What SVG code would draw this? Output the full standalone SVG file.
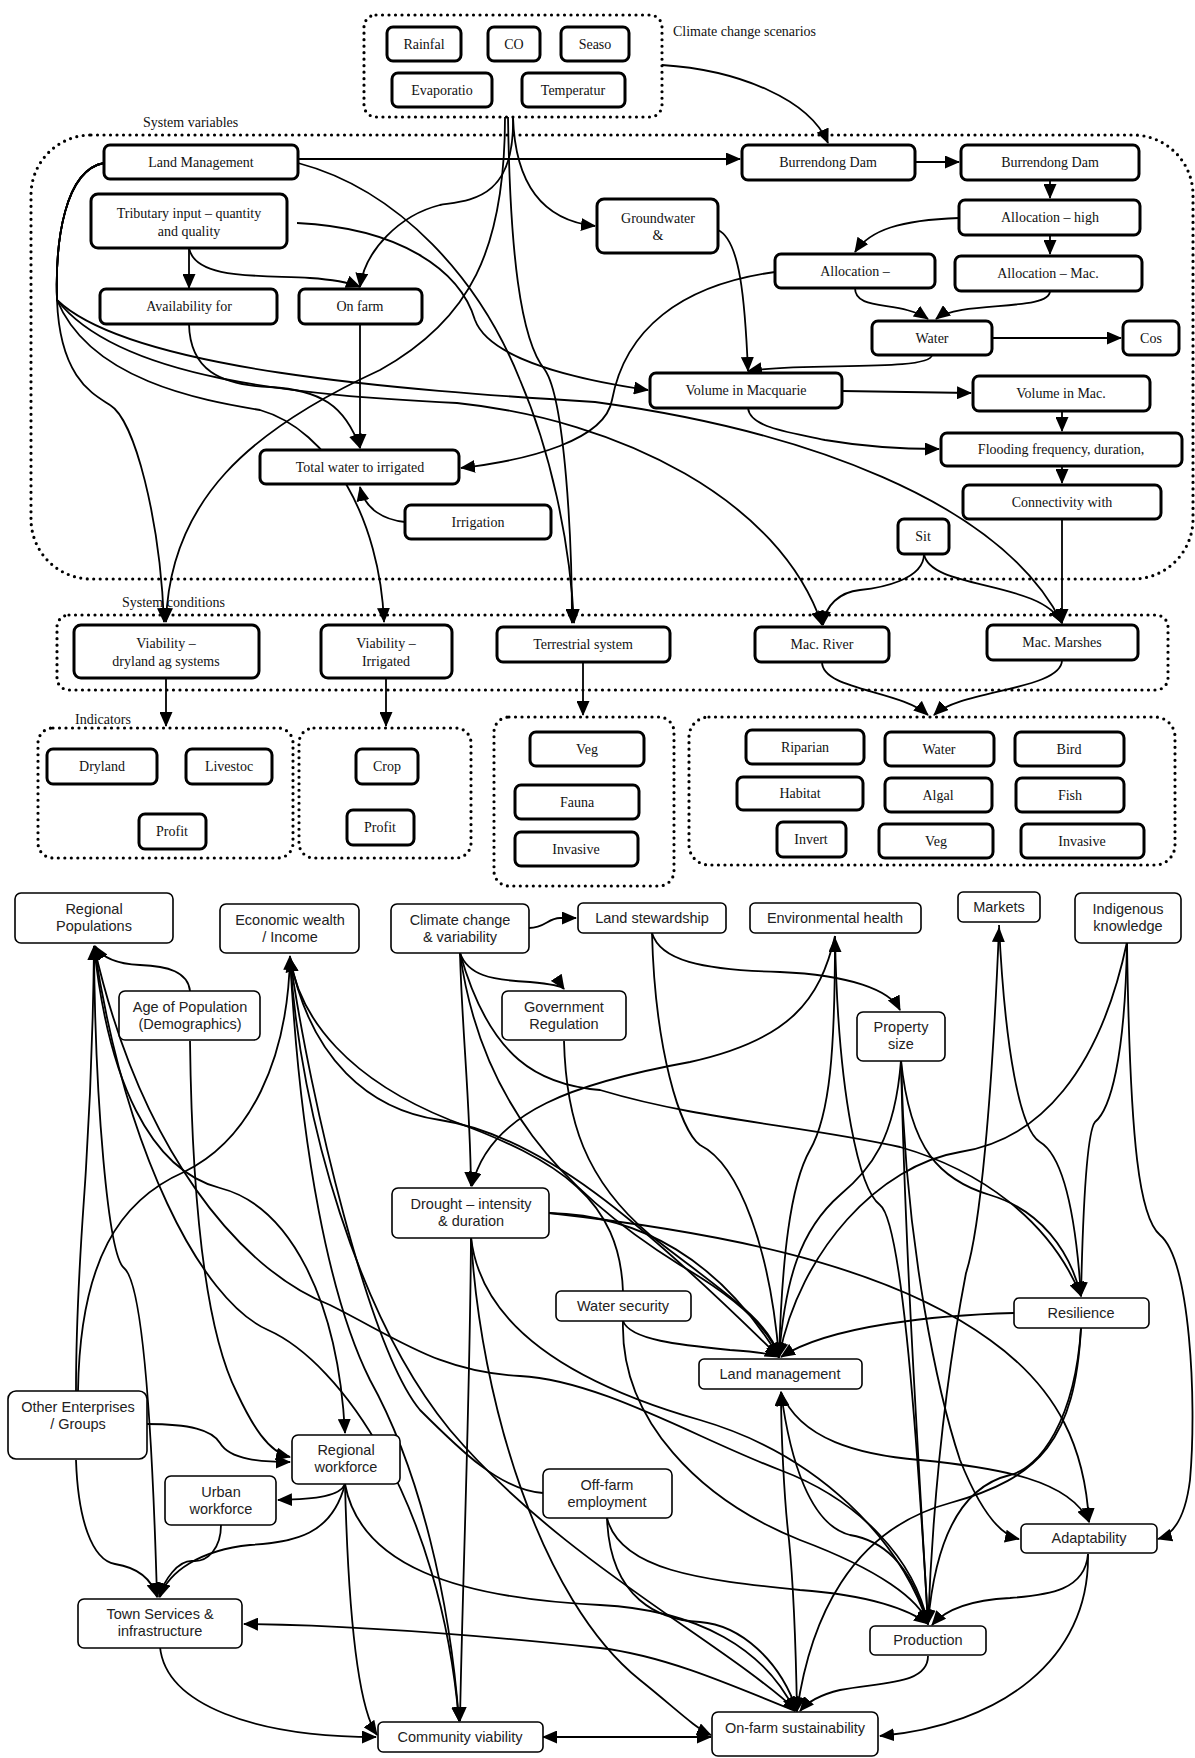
<svg xmlns="http://www.w3.org/2000/svg" width="1195" height="1758" viewBox="0 0 1195 1758">
<style>
.tn rect{fill:#fff;stroke:#000;stroke-width:3}
.tt{font-family:"Liberation Serif","Times New Roman",serif;font-size:14px;text-anchor:middle;fill:#111}
.lbl{font-family:"Liberation Serif","Times New Roman",serif;font-size:14px;fill:#111}
.bn rect{fill:#fff;stroke:#000;stroke-width:1.6}
.bt{font-family:"Liberation Sans",Arial,sans-serif;font-size:14.5px;text-anchor:middle;fill:#222}
.c path{fill:none;stroke:#000;stroke-width:1.8;marker-end:url(#a)}
.c path.bi{marker-start:url(#a)}
.dot{fill:none;stroke:#000;stroke-width:3.2;stroke-dasharray:0 6.5;stroke-linecap:round}
</style>
<defs>
<marker id="a" markerWidth="15" markerHeight="13" refX="14" refY="6.5" orient="auto-start-reverse" markerUnits="userSpaceOnUse"><path d="M0,0 L15,6.5 L0,13 z" fill="#000"/></marker>
</defs>
<rect width="1195" height="1758" fill="#fff"/>

<g id="containers">
<rect class="dot" x="364" y="15" width="298" height="102" rx="12"/>
<rect class="dot" x="31" y="135" width="1162" height="444" rx="60"/>
<rect class="dot" x="57" y="615" width="1111" height="75" rx="12"/>
<rect class="dot" x="38" y="728" width="255" height="130" rx="15"/>
<rect class="dot" x="299" y="728" width="172" height="130" rx="15"/>
<rect class="dot" x="494" y="717" width="180" height="169" rx="15"/>
<rect class="dot" x="689" y="717" width="486" height="148" rx="20"/>
<text class="lbl" x="673" y="36">Climate change scenarios</text>
<text class="lbl" x="143" y="127">System variables</text>
<text class="lbl" x="122" y="607">System conditions</text>
<text class="lbl" x="75" y="724">Indicators</text>
</g>

<g id="connectors" class="c">
<!-- top section -->
<path d="M662,65 C740,70 810,100 828,143"/>
<path d="M298,159 L740,159"/>
<path d="M915,162 L959,162"/>
<path d="M1050,180 L1050,198"/>
<path d="M959,218 C900,220 870,230 855,252"/>
<path d="M1050,235 L1050,254"/>
<path d="M855,288 C855,312 900,300 928,319"/>
<path d="M1050,291 C1050,312 960,300 936,319"/>
<path d="M992,338 L1121,338"/>
<path d="M932,355 C930,372 800,362 748,371"/>
<path d="M718,230 C740,240 745,300 748,371"/>
<path d="M297,223 C400,228 460,270 475,320 C490,360 580,380 648,390"/>
<path d="M842,391 L971,393"/>
<path d="M1062,411 L1062,431"/>
<path d="M1062,466 L1062,483"/>
<path d="M1062,519 L1062,623"/>
<path d="M748,408 C750,428 790,432 825,440 C860,446 900,449 939,449"/>
<path d="M924,554 C924,580 880,588 860,590 C840,592 825,605 823,625"/>
<path d="M924,554 C930,590 1040,580 1062,623"/>
<path d="M822,662 C822,690 900,690 928,715"/>
<path d="M1062,660 C1062,690 960,690 934,715"/>
<path d="M166,678 L166,726"/>
<path d="M386,678 L386,726"/>
<path d="M583,662 L583,715"/>
<path d="M189,248 L189,288"/>
<path d="M189,248 C195,280 260,275 310,278 C340,280 355,285 360,287"/>
<path d="M513,117 C515,200 470,200 440,205 C400,215 365,250 360,287"/>
<path d="M513,117 C515,180 540,220 595,226"/>
<path d="M360,324 L360,448"/>
<path d="M189,324 C190,370 220,385 270,387 C320,390 345,405 360,448"/>
<path d="M405,522 C385,520 365,510 360,487"/>
<path d="M775,272 C680,285 625,330 612,400 C605,440 530,460 461,468"/>
<path d="M505,117 C505,250 470,320 380,370 C250,430 170,500 166,622"/>
<path d="M298,163 C400,190 480,280 520,380 C550,450 570,540 574,623"/>
<path d="M508,117 C510,250 520,340 545,370 C565,400 572,540 572,623"/>
<path d="M104,163 C65,170 55,240 57,300 C60,380 95,395 110,405 C135,420 160,520 164,622"/>
<path d="M104,163 C65,170 55,240 57,300 C90,380 200,400 260,410 C330,430 380,520 384,622"/>
<path d="M104,163 C65,170 55,240 57,300 C120,380 300,395 457,403 C620,420 780,500 822,625"/>
<path d="M104,163 C65,170 55,240 57,300 C130,370 400,390 595,402 C800,430 1000,500 1062,623"/>
<!-- bottom section -->
<path d="M190,991 C188,972 168,966 140,965 C118,964 102,958 95,946"/>
<path d="M76,1391 C76,1290 84,1205 86,1168 C89,1120 93,1040 94,946"/>
<path d="M78,1391 C80,1260 120,1200 184,1172 C250,1140 288,1060 290,956"/>
<path d="M94,946 C95,1100 108,1255 124,1268 C142,1282 152,1420 157,1597"/>
<path d="M94,946 C108,1080 150,1170 220,1188 C290,1206 338,1300 345,1433"/>
<path d="M94,946 C140,1150 240,1270 330,1305 C400,1340 440,1372 520,1376 C600,1380 700,1440 780,1470 C860,1500 915,1560 928,1624"/>
<path d="M94,946 C125,1150 200,1300 268,1330 C340,1362 440,1500 459,1721"/>
<path d="M190,1041 C192,1200 205,1330 237,1393 C252,1425 268,1452 290,1457"/>
<path d="M147,1424 C190,1424 212,1430 220,1443 C230,1460 262,1462 290,1462"/>
<path d="M76,1460 C78,1520 92,1560 115,1564 C140,1568 152,1580 157,1597"/>
<path d="M345,1484 C340,1496 318,1499 278,1500"/>
<path d="M221,1525 C221,1548 208,1562 193,1561 C178,1560 164,1580 159,1597"/>
<path d="M345,1484 C332,1535 295,1542 250,1545 C200,1550 168,1572 160,1597"/>
<path d="M345,1484 C348,1600 356,1705 377,1735"/>
<path d="M345,1484 C360,1565 455,1598 600,1605 C700,1610 765,1650 795,1711"/>
<path d="M160,1647 C166,1705 255,1737 376,1737"/>
<path d="M795,1711 C720,1680 660,1655 600,1648 C450,1632 330,1625 244,1624"/>
<path class="bi" d="M543,1737 L711,1737"/>
<path d="M529,928 C545,928 548,918 560,918 L576,918"/>
<path d="M460,953 C468,975 490,980 530,982 C552,984 562,986 564,989"/>
<path d="M460,953 C462,1030 470,1100 471,1186"/>
<path d="M835,936 C820,1000 790,1040 690,1062 C580,1082 490,1110 472,1186"/>
<path d="M460,953 C480,1100 560,1190 680,1265 C740,1300 770,1330 779,1357"/>
<path d="M460,953 C490,1060 540,1085 600,1090 C700,1120 800,1125 900,1147 C980,1170 1050,1220 1081,1296"/>
<path d="M564,1041 C566,1120 585,1180 650,1235 C720,1290 770,1320 779,1357"/>
<path d="M652,933 C660,960 700,970 780,972 C850,975 890,990 900,1010"/>
<path d="M652,933 C655,1050 680,1130 700,1145 C740,1165 770,1250 779,1357"/>
<path d="M779,1357 C782,1260 790,1185 810,1150 C830,1115 835,1050 835,938"/>
<path d="M835,936 C838,1100 860,1190 880,1205 C900,1220 915,1400 928,1624"/>
<path d="M901,1060 C895,1140 870,1170 840,1195 C800,1230 785,1280 779,1357"/>
<path d="M901,1060 C905,1250 918,1450 928,1624"/>
<path d="M901,1060 C910,1150 940,1180 990,1195 C1040,1210 1070,1250 1081,1296"/>
<path d="M901,1060 C905,1250 940,1400 960,1460 C980,1510 1000,1535 1019,1539"/>
<path d="M999,925 C1005,1050 1020,1130 1040,1142 C1070,1160 1078,1250 1081,1296"/>
<path d="M928,1624 C935,1450 955,1330 966,1273 C980,1230 992,1100 999,928"/>
<path d="M1127,942 C1125,1060 1110,1110 1095,1122 C1085,1135 1082,1250 1081,1296"/>
<path d="M1127,942 C1130,1150 1140,1218 1160,1235 C1190,1260 1197,1400 1190,1480 C1185,1520 1172,1535 1158,1539"/>
<path d="M1127,942 C1100,1070 1040,1140 960,1152 C880,1165 800,1250 779,1357"/>
<path d="M1014,1313 C940,1315 830,1325 781,1357"/>
<path d="M1081,1328 C1075,1440 1040,1478 950,1503 C850,1530 810,1620 797,1711"/>
<path d="M1081,1328 C1075,1420 1040,1468 1010,1475 C960,1487 935,1540 928,1624"/>
<path d="M549,1213 C640,1215 720,1260 779,1357"/>
<path d="M549,1213 C700,1230 880,1260 990,1340 C1060,1390 1085,1450 1089,1522"/>
<path d="M471,1237 C470,1400 462,1600 460,1721"/>
<path d="M471,1237 C480,1400 540,1600 640,1680 C675,1708 695,1728 711,1735"/>
<path d="M471,1237 C480,1320 560,1380 700,1420 C820,1455 900,1540 928,1624"/>
<path d="M623,1321 C630,1340 680,1345 730,1350 C760,1352 775,1355 779,1357"/>
<path d="M623,1292 C620,1200 560,1160 450,1120 C350,1080 300,1020 290,958"/>
<path d="M623,1321 C620,1420 700,1500 800,1540 C880,1570 920,1600 928,1624"/>
<path d="M543,1493 C500,1490 460,1450 420,1410 C370,1350 310,1100 290,958"/>
<path d="M607,1518 C620,1570 700,1580 800,1590 C870,1595 910,1610 928,1624"/>
<path d="M607,1518 C610,1600 660,1620 700,1622 C740,1625 780,1660 797,1711"/>
<path d="M928,1656 C928,1685 880,1682 840,1690 C815,1696 805,1705 800,1711"/>
<path d="M1088,1554 C1085,1590 1050,1595 1010,1598 C970,1600 945,1610 932,1625"/>
<path d="M1088,1554 C1090,1660 1000,1725 880,1736"/>
<path d="M797,1711 C795,1600 790,1550 789,1540 C784,1500 781,1430 781,1392"/>
<path d="M928,1624 C910,1560 880,1540 850,1535 C810,1525 790,1460 781,1392"/>
<path d="M781,1392 C800,1440 860,1455 920,1460 C1000,1468 1070,1480 1089,1522"/>
<path d="M290,957 C300,1150 330,1300 370,1380 C420,1470 450,1600 459,1721"/>
<path d="M290,957 C300,1120 360,1320 450,1430 C560,1560 720,1640 797,1711"/>
<path d="M290,957 C310,1060 370,1110 440,1120 C540,1135 640,1220 779,1357"/>
</g>

<!-- top nodes -->
<g id="n-rainfal" class="tn"><rect x="387" y="27" width="74" height="34" rx="6"/><text class="tt" x="424" y="49">Rainfal</text></g>
<g id="n-co" class="tn"><rect x="488" y="27" width="52" height="34" rx="6"/><text class="tt" x="514" y="49">CO</text></g>
<g id="n-seaso" class="tn"><rect x="561" y="27" width="68" height="34" rx="6"/><text class="tt" x="595" y="49">Seaso</text></g>
<g id="n-evap" class="tn"><rect x="392" y="73" width="100" height="34" rx="6"/><text class="tt" x="442" y="95">Evaporatio</text></g>
<g id="n-temp" class="tn"><rect x="522" y="73" width="103" height="34" rx="6"/><text class="tt" x="573" y="95">Temperatur</text></g>
<g id="n-landmgmt" class="tn"><rect x="104" y="145" width="194" height="34" rx="6"/><text class="tt" x="201" y="167">Land Management</text></g>
<g id="n-tributary" class="tn"><rect x="91" y="194" width="196" height="54" rx="7"/><text class="tt" x="189" y="218">Tributary input – quantity</text><text class="tt" x="189" y="236">and quality</text></g>
<g id="n-availability" class="tn"><rect x="100" y="289" width="177" height="35" rx="6"/><text class="tt" x="189" y="311">Availability for</text></g>
<g id="n-onfarm" class="tn"><rect x="299" y="289" width="123" height="35" rx="6"/><text class="tt" x="360" y="311">On farm</text></g>
<g id="n-groundwater" class="tn"><rect x="597" y="199" width="121" height="54" rx="7"/><text class="tt" x="658" y="223">Groundwater</text><text class="tt" x="658" y="240">&amp;</text></g>
<g id="n-bd1" class="tn"><rect x="742" y="145" width="173" height="35" rx="6"/><text class="tt" x="828" y="167">Burrendong Dam</text></g>
<g id="n-bd2" class="tn"><rect x="961" y="145" width="178" height="35" rx="6"/><text class="tt" x="1050" y="167">Burrendong Dam</text></g>
<g id="n-allochigh" class="tn"><rect x="959" y="200" width="181" height="35" rx="6"/><text class="tt" x="1050" y="222">Allocation – high</text></g>
<g id="n-alloc" class="tn"><rect x="775" y="254" width="160" height="34" rx="6"/><text class="tt" x="855" y="276">Allocation –</text></g>
<g id="n-allocmac" class="tn"><rect x="955" y="256" width="187" height="35" rx="6"/><text class="tt" x="1048" y="278">Allocation – Mac.</text></g>
<g id="n-water" class="tn"><rect x="872" y="321" width="120" height="34" rx="6"/><text class="tt" x="932" y="343">Water</text></g>
<g id="n-cos" class="tn"><rect x="1123" y="321" width="56" height="34" rx="6"/><text class="tt" x="1151" y="343">Cos</text></g>
<g id="n-volmacq" class="tn"><rect x="650" y="373" width="192" height="35" rx="6"/><text class="tt" x="746" y="395">Volume in Macquarie</text></g>
<g id="n-volmac" class="tn"><rect x="973" y="376" width="177" height="35" rx="6"/><text class="tt" x="1061" y="398">Volume in Mac.</text></g>
<g id="n-flooding" class="tn"><rect x="941" y="433" width="241" height="33" rx="6"/><text class="tt" x="1061" y="454">Flooding frequency, duration,</text></g>
<g id="n-connectivity" class="tn"><rect x="963" y="485" width="198" height="34" rx="6"/><text class="tt" x="1062" y="507">Connectivity with</text></g>
<g id="n-sit" class="tn"><rect x="898" y="519" width="51" height="35" rx="6"/><text class="tt" x="923" y="541">Sit</text></g>
<g id="n-totalwater" class="tn"><rect x="260" y="450" width="199" height="34" rx="6"/><text class="tt" x="360" y="472">Total water to irrigated</text></g>
<g id="n-irrigation" class="tn"><rect x="405" y="505" width="146" height="34" rx="6"/><text class="tt" x="478" y="527">Irrigation</text></g>
<g id="n-viadry" class="tn"><rect x="74" y="625" width="185" height="53" rx="7"/><text class="tt" x="166" y="648">Viability –</text><text class="tt" x="166" y="666">dryland ag systems</text></g>
<g id="n-viairr" class="tn"><rect x="321" y="625" width="131" height="53" rx="7"/><text class="tt" x="386" y="648">Viability –</text><text class="tt" x="386" y="666">Irrigated</text></g>
<g id="n-terrestrial" class="tn"><rect x="497" y="627" width="173" height="35" rx="6"/><text class="tt" x="583" y="649">Terrestrial system</text></g>
<g id="n-macriver" class="tn"><rect x="755" y="627" width="134" height="35" rx="6"/><text class="tt" x="822" y="649">Mac. River</text></g>
<g id="n-macmarshes" class="tn"><rect x="987" y="625" width="151" height="35" rx="6"/><text class="tt" x="1062" y="647">Mac. Marshes</text></g>
<g id="n-dryland" class="tn"><rect x="47" y="749" width="110" height="35" rx="6"/><text class="tt" x="102" y="771">Dryland</text></g>
<g id="n-livestoc" class="tn"><rect x="186" y="749" width="86" height="35" rx="6"/><text class="tt" x="229" y="771">Livestoc</text></g>
<g id="n-profit1" class="tn"><rect x="139" y="814" width="67" height="35" rx="6"/><text class="tt" x="172" y="836">Profit</text></g>
<g id="n-crop" class="tn"><rect x="356" y="749" width="62" height="35" rx="6"/><text class="tt" x="387" y="771">Crop</text></g>
<g id="n-profit2" class="tn"><rect x="347" y="810" width="67" height="35" rx="6"/><text class="tt" x="380" y="832">Profit</text></g>
<g id="n-vegt" class="tn"><rect x="530" y="732" width="114" height="34" rx="6"/><text class="tt" x="587" y="754">Veg</text></g>
<g id="n-fauna" class="tn"><rect x="515" y="785" width="124" height="34" rx="6"/><text class="tt" x="577" y="807">Fauna</text></g>
<g id="n-invt" class="tn"><rect x="515" y="832" width="123" height="34" rx="6"/><text class="tt" x="576" y="854">Invasive</text></g>
<g id="n-riparian" class="tn"><rect x="746" y="730" width="118" height="34" rx="6"/><text class="tt" x="805" y="752">Riparian</text></g>
<g id="n-waterind" class="tn"><rect x="885" y="732" width="109" height="34" rx="6"/><text class="tt" x="939" y="754">Water</text></g>
<g id="n-bird" class="tn"><rect x="1015" y="732" width="109" height="34" rx="6"/><text class="tt" x="1069" y="754">Bird</text></g>
<g id="n-habitat" class="tn"><rect x="737" y="777" width="126" height="33" rx="6"/><text class="tt" x="800" y="798">Habitat</text></g>
<g id="n-algal" class="tn"><rect x="885" y="778" width="107" height="34" rx="6"/><text class="tt" x="938" y="800">Algal</text></g>
<g id="n-fish" class="tn"><rect x="1016" y="778" width="108" height="34" rx="6"/><text class="tt" x="1070" y="800">Fish</text></g>
<g id="n-invert" class="tn"><rect x="777" y="822" width="69" height="35" rx="6"/><text class="tt" x="811" y="844">Invert</text></g>
<g id="n-vega" class="tn"><rect x="879" y="824" width="114" height="34" rx="6"/><text class="tt" x="936" y="846">Veg</text></g>
<g id="n-inva" class="tn"><rect x="1021" y="824" width="123" height="34" rx="6"/><text class="tt" x="1082" y="846">Invasive</text></g>

<!-- bottom nodes -->
<g id="n-regpop" class="bn"><rect x="15" y="893" width="158" height="50" rx="6"/><text class="bt" x="94" y="914">Regional</text><text class="bt" x="94" y="931">Populations</text></g>
<g id="n-econ" class="bn"><rect x="220" y="904" width="139" height="49" rx="6"/><text class="bt" x="290" y="925">Economic wealth</text><text class="bt" x="290" y="942">/ Income</text></g>
<g id="n-ccv" class="bn"><rect x="391" y="904" width="138" height="49" rx="6"/><text class="bt" x="460" y="925">Climate change</text><text class="bt" x="460" y="942">&amp; variability</text></g>
<g id="n-landstew" class="bn"><rect x="578" y="903" width="148" height="30" rx="5"/><text class="bt" x="652" y="923">Land stewardship</text></g>
<g id="n-envhealth" class="bn"><rect x="750" y="903" width="171" height="30" rx="5"/><text class="bt" x="835" y="923">Environmental health</text></g>
<g id="n-markets" class="bn"><rect x="958" y="892" width="82" height="30" rx="5"/><text class="bt" x="999" y="912">Markets</text></g>
<g id="n-indig" class="bn"><rect x="1075" y="893" width="106" height="50" rx="6"/><text class="bt" x="1128" y="914">Indigenous</text><text class="bt" x="1128" y="931">knowledge</text></g>
<g id="n-age" class="bn"><rect x="119" y="991" width="141" height="49" rx="6"/><text class="bt" x="190" y="1012">Age of Population</text><text class="bt" x="190" y="1029">(Demographics)</text></g>
<g id="n-govreg" class="bn"><rect x="502" y="991" width="124" height="49" rx="6"/><text class="bt" x="564" y="1012">Government</text><text class="bt" x="564" y="1029">Regulation</text></g>
<g id="n-property" class="bn"><rect x="857" y="1012" width="88" height="49" rx="6"/><text class="bt" x="901" y="1032">Property</text><text class="bt" x="901" y="1049">size</text></g>
<g id="n-drought" class="bn"><rect x="392" y="1188" width="157" height="50" rx="6"/><text class="bt" x="471" y="1209">Drought – intensity</text><text class="bt" x="471" y="1226">&amp; duration</text></g>
<g id="n-watersec" class="bn"><rect x="556" y="1291" width="135" height="30" rx="5"/><text class="bt" x="623" y="1311">Water security</text></g>
<g id="n-resilience" class="bn"><rect x="1014" y="1298" width="135" height="30" rx="5"/><text class="bt" x="1081" y="1318">Resilience</text></g>
<g id="n-landman" class="bn"><rect x="699" y="1359" width="163" height="30" rx="5"/><text class="bt" x="780" y="1379">Land management</text></g>
<g id="n-other" class="bn"><rect x="8" y="1391" width="139" height="68" rx="8"/><text class="bt" x="78" y="1412">Other Enterprises</text><text class="bt" x="78" y="1429">/ Groups</text></g>
<g id="n-regwork" class="bn"><rect x="292" y="1435" width="108" height="49" rx="6"/><text class="bt" x="346" y="1455">Regional</text><text class="bt" x="346" y="1472">workforce</text></g>
<g id="n-urban" class="bn"><rect x="165" y="1476" width="111" height="49" rx="6"/><text class="bt" x="221" y="1497">Urban</text><text class="bt" x="221" y="1514">workforce</text></g>
<g id="n-offfarm" class="bn"><rect x="543" y="1469" width="129" height="49" rx="6"/><text class="bt" x="607" y="1490">Off-farm</text><text class="bt" x="607" y="1507">employment</text></g>
<g id="n-adapt" class="bn"><rect x="1021" y="1524" width="136" height="29" rx="5"/><text class="bt" x="1089" y="1543">Adaptability</text></g>
<g id="n-town" class="bn"><rect x="78" y="1599" width="164" height="49" rx="6"/><text class="bt" x="160" y="1619">Town Services &amp;</text><text class="bt" x="160" y="1636">infrastructure</text></g>
<g id="n-production" class="bn"><rect x="870" y="1626" width="116" height="29" rx="5"/><text class="bt" x="928" y="1645">Production</text></g>
<g id="n-community" class="bn"><rect x="378" y="1722" width="165" height="30" rx="5"/><text class="bt" x="460" y="1742">Community viability</text></g>
<g id="n-onfarmsus" class="bn"><rect x="712" y="1712" width="166" height="44" rx="6"/><text class="bt" x="795" y="1733">On-farm sustainability</text></g>
</svg>
